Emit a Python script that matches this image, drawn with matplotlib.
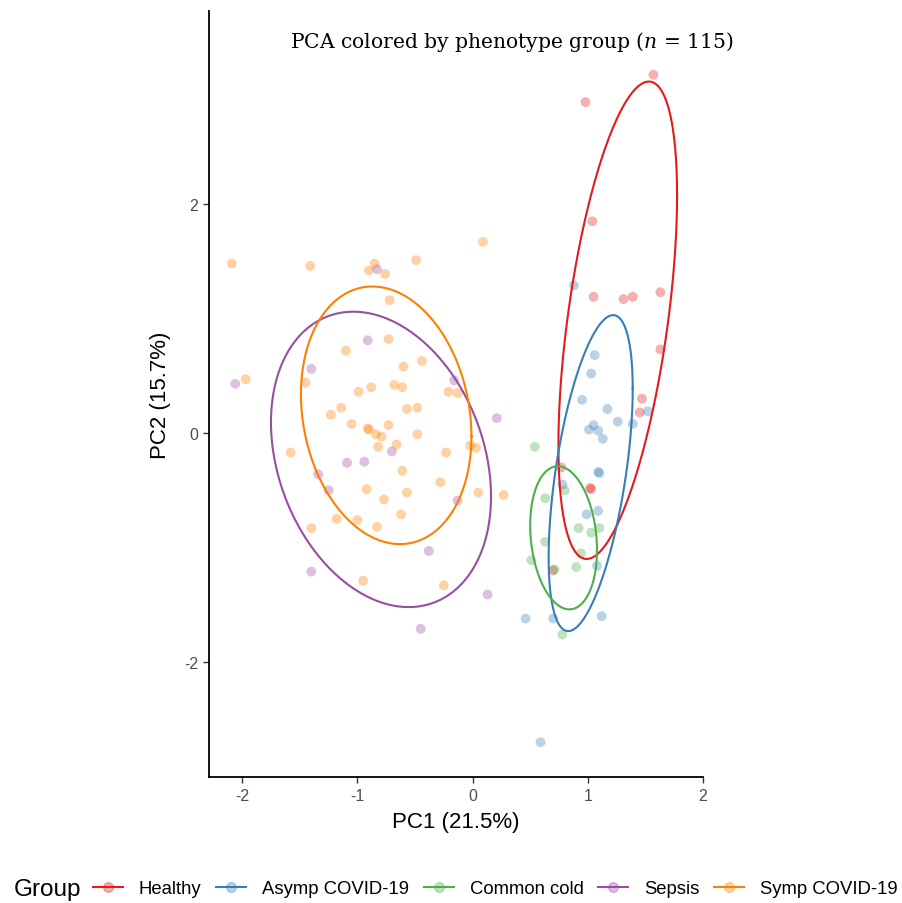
import numpy as np
import matplotlib
matplotlib.use("Agg")
import matplotlib.pyplot as plt
from matplotlib.lines import Line2D

plt.rcParams["font.family"] = ["Liberation Sans", "DejaVu Sans"]
plt.rcParams["axes.unicode_minus"] = False
plt.rcParams["mathtext.fontset"] = "custom"
plt.rcParams["mathtext.rm"] = "DejaVu Serif"
plt.rcParams["mathtext.it"] = "DejaVu Serif:italic"

# groupes et couleurs (Set1)
groups = ["Healthy", "Asymp COVID-19", "Common cold", "Sepsis", "Symp COVID-19"]
colors = ["#E41A1C", "#377EB8", "#4DAF4A", "#984EA3", "#FF7F00"]

# scores PCA
healthy_pc1 = [1.57, 0.98, 1.04, 1.05, 1.31, 1.39, 1.63, 1.63, 1.47, 1.45,
               0.77, 1.02, 1.03, 0.70]
healthy_pc2 = [3.13, 2.89, 1.85, 1.19, 1.17, 1.19, 1.23, 0.73, 0.30, 0.18,
               -0.30, -0.48, -0.49, -1.20]

asymp_pc1 = [0.88, 1.06, 1.03, 0.95, 1.17, 1.52, 1.26, 1.39, 1.05, 1.01,
             1.09, 1.13, 1.09, 1.10, 0.78, 1.09, 0.99, 1.08, 0.46, 0.70,
             1.12, 0.59]
asymp_pc2 = [1.29, 0.68, 0.52, 0.29, 0.21, 0.19, 0.10, 0.08, 0.07, 0.03,
             0.02, -0.05, -0.34, -0.35, -0.45, -0.68, -0.71, -1.16, -1.62, -1.62,
             -1.60, -2.70]

cold_pc1 = [0.54, 0.80, 0.63, 0.92, 1.10, 1.03, 0.63, 0.94, 0.51, 0.90,
            0.71, 0.78]
cold_pc2 = [-0.12, -0.50, -0.57, -0.83, -0.83, -0.87, -0.95, -1.05, -1.11, -1.17,
            -1.19, -1.76]

sepsis_pc1 = [-0.83, -0.91, -1.40, -2.06, -0.16, 0.21, -0.70, -1.09, -0.94, -1.34,
              -1.25, -0.13, -0.38, -1.40, 0.13, -0.45]
sepsis_pc2 = [1.43, 0.81, 0.56, 0.43, 0.46, 0.13, -0.16, -0.26, -0.25, -0.36,
              -0.50, -0.59, -1.03, -1.21, -1.41, -1.71]

symp_pc1 = [-2.09, -1.41, -0.85, -0.90, -0.76, -0.49, 0.09, -0.72, -0.73, -1.10,
            -1.97, -1.45, -0.44, -0.60, -0.21, -0.13, -0.88, -0.99, -0.68, -0.61,
            -1.14, -1.23, -0.57, -0.48, -1.05, -0.91, -0.73, -0.84, -0.79, -0.48,
            -0.66, -0.82, -1.58, -0.23, -0.02, 0.03, -0.61, -0.28, -0.92, -0.57,
            -0.77, 0.05, 0.27, -0.62, -1.18, -1.00, -0.83, -1.40, -0.95, -0.25,
            -0.90]
symp_pc2 = [1.48, 1.46, 1.48, 1.42, 1.39, 1.51, 1.67, 1.16, 0.82, 0.72,
            0.47, 0.44, 0.63, 0.58, 0.36, 0.35, 0.40, 0.36, 0.42, 0.40,
            0.22, 0.16, 0.21, 0.22, 0.08, 0.04, 0.07, -0.01, -0.03, -0.01,
            -0.10, -0.12, -0.17, -0.17, -0.11, -0.13, -0.33, -0.43, -0.49, -0.52,
            -0.58, -0.52, -0.54, -0.71, -0.75, -0.76, -0.82, -0.83, -1.29, -1.33,
            0.03]

pc1 = [healthy_pc1, asymp_pc1, cold_pc1, sepsis_pc1, symp_pc1]
pc2 = [healthy_pc2, asymp_pc2, cold_pc2, sepsis_pc2, symp_pc2]

# ellipses 95% : centre, demi-largeur, demi-hauteur, decalage x du point haut
ell_cx = [1.26, 1.025, 0.79, -0.795, -0.75]
ell_cy = [0.985, -0.35, -0.915, -0.23, 0.155]
ell_hw = [0.515, 0.365, 0.29, 0.955, 0.74]
ell_hh = [2.085, 1.38, 0.625, 1.29, 1.125]
ell_top = [0.27, 0.195, -0.05, -0.24, -0.12]


def ellipse_pts(cx, cy, hw, hh, top):
    M = np.array([[hw ** 2, top * hh], [top * hh, hh ** 2]])
    L = np.linalg.cholesky(M)
    t = np.linspace(0, 2 * np.pi, 300)
    u = np.vstack([np.cos(t), np.sin(t)])
    p = L @ u
    return cx + p[0], cy + p[1]


fig = plt.figure(figsize=(9.02, 9.04), dpi=100)
ax = fig.add_axes([209 / 902, 1 - 778 / 904, (703 - 209) / 902, (778 - 12) / 904])

for i in range(len(groups)):
    ax.scatter(pc1[i], pc2[i], s=50, color=colors[i], alpha=0.35,
               edgecolors="none", zorder=2)
for i in range(len(groups)):
    ex, ey = ellipse_pts(ell_cx[i], ell_cy[i], ell_hw[i], ell_hh[i], ell_top[i])
    ax.plot(ex, ey, color=colors[i], lw=1.5, zorder=3)

ax.set_xlim(-2.288, 2.0)
ax.set_ylim(-3.004, 3.686)
ax.set_xticks([-2, -1, 0, 1, 2])
ax.set_yticks([-2, 0, 2])
ax.spines["top"].set_visible(False)
ax.spines["right"].set_visible(False)
for s in ["left", "bottom"]:
    ax.spines[s].set_linewidth(1.3)
ax.tick_params(length=4, width=1.0, color="#333333", labelsize=11.5,
               labelcolor="#4D4D4D", pad=4)
ax.set_xlabel("PC1 (21.5%)", fontsize=16, labelpad=6)
ax.set_ylabel("PC2 (15.7%)", fontsize=16, labelpad=9)

fig.text(512 / 902, 1 - 42 / 904,
         r"PCA colored by phenotype group ($n$ = 115)",
         family="DejaVu Serif", fontsize=14.6, ha="center", va="center")

# legende en bas
handles = []
for c in colors:
    rgba = matplotlib.colors.to_rgba(c, 0.35)
    handles.append(Line2D([], [], color=c, lw=1.5, marker="o", markersize=7,
                          markerfacecolor=rgba, markeredgecolor=rgba))
fig.text(14 / 902, 1 - 890 / 904, "Group", fontsize=17.5, ha="left", va="center")
fig.legend(handles, groups, loc="center left", bbox_to_anchor=(93 / 902, 1 - 890 / 904),
           ncol=5, frameon=False, fontsize=13.3, handlelength=1.62,
           handletextpad=0.86, columnspacing=0.8, borderpad=0, borderaxespad=0)

fig.savefig("out.png", dpi=100)
